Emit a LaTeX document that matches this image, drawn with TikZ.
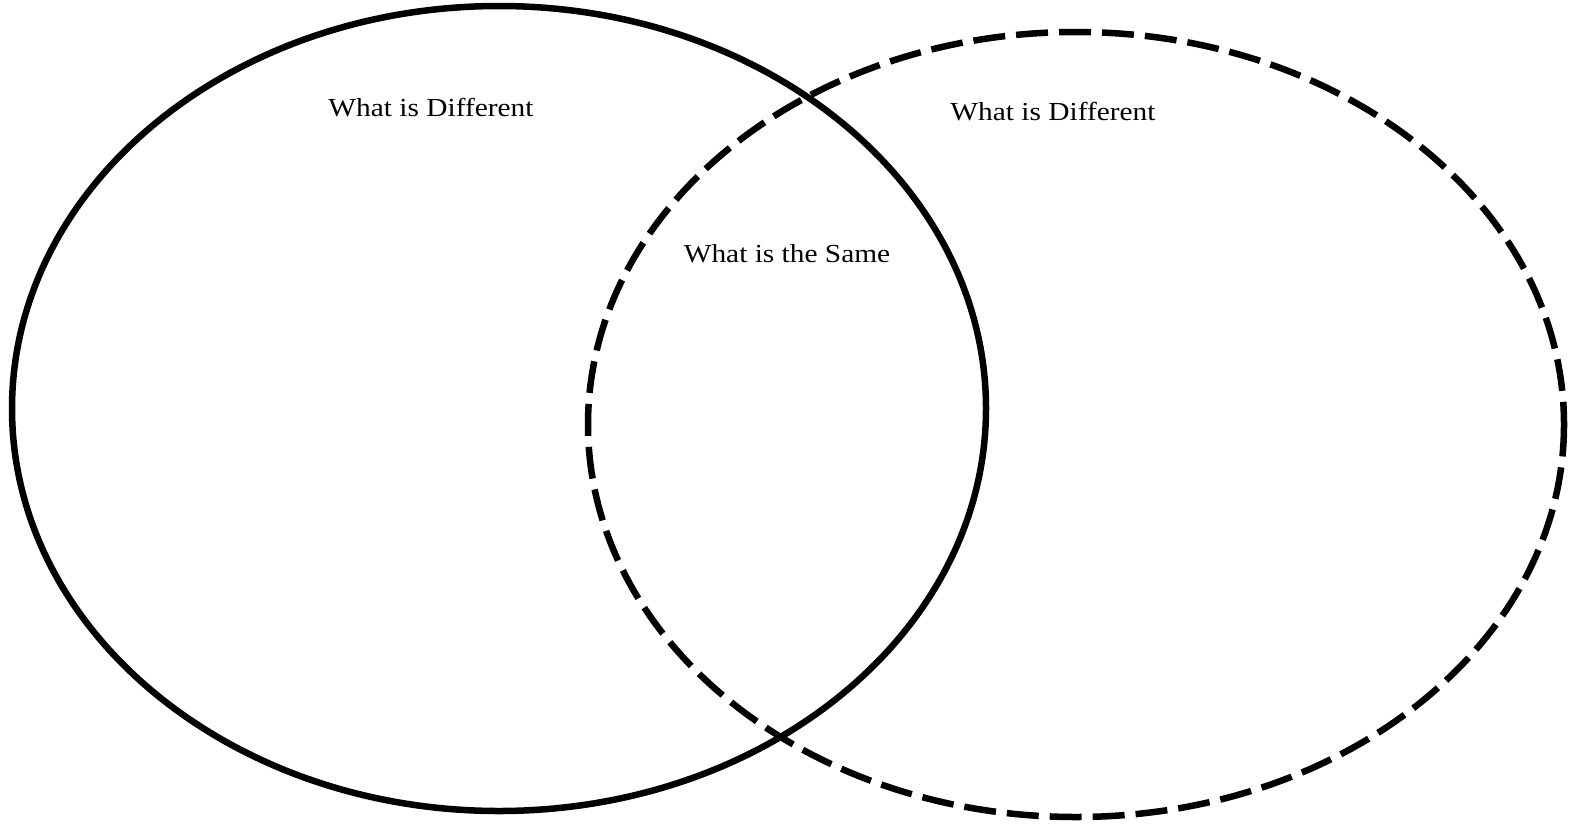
\documentclass[tikz,border=0pt]{standalone}
\usepackage{fontspec}
\setmainfont{Liberation Serif}
\begin{document}
\begin{tikzpicture}[x=1pt,y=-1pt,
  solidring/.style={draw=black,line width=6.5pt},
  dashring/.style={draw=black,line width=6.5pt,dash pattern=on 32pt off 11pt},
  lbl/.style={font=\fontsize{26}{29}\selectfont,xscale=1.13,inner sep=0pt}]
\useasboundingbox (0,0) rectangle (1573,825);
\path[solidring] (499,408.5) ellipse [x radius=487, y radius=402.5];
\path[dashring] (1076,424.5) ellipse [x radius=488, y radius=392.5];
\node[lbl] (d1) at (431,108) {What is Different};
\node[lbl] (d2) at (1053,112) {What is Different};
\node[lbl] (s) at (787,254) {What is the Same};
\end{tikzpicture}
\end{document}
